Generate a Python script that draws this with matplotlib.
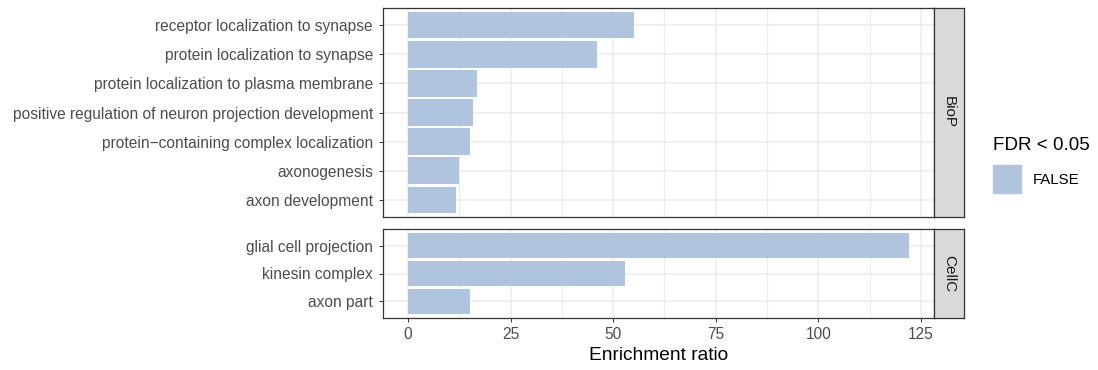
import matplotlib
matplotlib.use("Agg")
import matplotlib.pyplot as plt
from matplotlib.patches import Rectangle

plt.rcParams['font.family'] = ['Liberation Sans', 'DejaVu Sans']

# GO terms per category (bottom to top within each panel)
biop_terms = ['axon development', 'axonogenesis', 'protein\u2212containing complex localization',
              'positive regulation of neuron projection development',
              'protein localization to plasma membrane', 'protein localization to synapse',
              'receptor localization to synapse']
biop_ratio = [11.6, 12.5, 15.0, 15.9, 16.7, 46.1, 55.1]

cellc_terms = ['axon part', 'kinesin complex', 'glial cell projection']
cellc_ratio = [15.0, 53.0, 122.1]

facets = ['BioP', 'CellC']
bar_color = '#B0C4DE'
xticks = [0, 25, 50, 75, 100, 125]

W, H = 1098, 370
fig = plt.figure(figsize=(W / 100, H / 100), dpi=100)


def px_axes(left, top, right, bottom):
    return fig.add_axes([left / W, 1 - bottom / H, (right - left) / W, (bottom - top) / H])


xmax = max(biop_ratio + cellc_ratio)
xlim = (-0.05 * xmax, 1.05 * xmax)

panels = [(biop_terms, biop_ratio, 8, 217), (cellc_terms, cellc_ratio, 229, 318)]
for i, (terms, vals, top, bot) in enumerate(panels):
    ax = px_axes(383, top, 934, bot)
    y = range(len(terms))
    ax.barh(y, vals, height=0.9, color=bar_color, zorder=3)
    ax.set_xlim(*xlim)
    ax.set_ylim(-0.6, len(terms) - 0.4)
    ax.set_yticks(list(y))
    ax.set_yticklabels(terms)
    ax.set_xticks(xticks)
    ax.set_xticks([12.5, 37.5, 62.5, 87.5, 112.5], minor=True)
    ax.grid(True, which='major', color='#EBEBEB', lw=1.1, zorder=0)
    ax.grid(True, which='minor', axis='x', color='#EBEBEB', lw=0.8, zorder=0)
    ax.tick_params(axis='y', which='major', length=2.7, width=0.7, color='#333333',
                   labelcolor='#4D4D4D', labelsize=11.2, pad=4.5)
    ax.tick_params(axis='x', which='major', length=2.7, width=0.7, color='#333333',
                   labelcolor='#4D4D4D', labelsize=11.2, pad=4)
    ax.tick_params(which='minor', length=0)
    for s in ax.spines.values():
        s.set_color('#333333')
        s.set_linewidth(0.9)
    if i == 0:
        ax.tick_params(axis='x', which='major', length=0, labelbottom=False)
    else:
        ax.set_xlabel('Enrichment ratio', fontsize=13.8, color='black', labelpad=3.5)

    # facet strip on the right
    sax = px_axes(934, top, 964, bot)
    sax.set_xticks([])
    sax.set_yticks([])
    sax.set_facecolor('#D9D9D9')
    for s in sax.spines.values():
        s.set_color('#333333')
        s.set_linewidth(0.9)
    sax.text(0.5, 0.5, facets[i], rotation=-90, ha='center', va='center',
             fontsize=11, color='#1A1A1A', transform=sax.transAxes)

# legend
fig.text(993 / W, 1 - 146 / H, 'FDR < 0.05', fontsize=13.6, va='center', ha='left')
fig.patches.append(Rectangle((993 / W, 1 - 193 / H), 28 / W, 28 / H,
                             transform=fig.transFigure, color=bar_color))
fig.text(1033 / W, 1 - 180 / H, 'FALSE', fontsize=10.8, va='center', ha='left')

fig.savefig('out.png', dpi=100)
